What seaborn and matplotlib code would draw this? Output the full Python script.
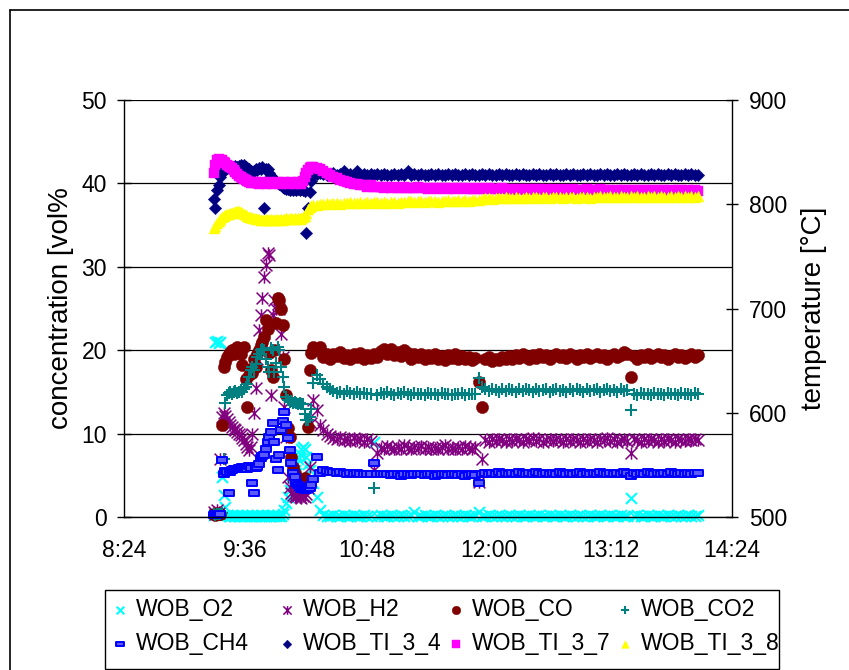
import matplotlib
matplotlib.use("Agg")
import numpy as np
import pandas as pd
import matplotlib.pyplot as plt
import matplotlib.dates as mdates
from matplotlib.path import Path
from matplotlib.lines import Line2D
from matplotlib.patches import Rectangle
from matplotlib.ticker import FuncFormatter
import seaborn as sns

# ---------------- data ----------------
DAY = "2000-01-01"
FAST_START, FAST_END, FAST_STEP = "09:17", "10:16", "1min"   # 60 samples
SLOW_START, SLOW_END, SLOW_STEP = "10:18", "14:04", "2min"   # 114 samples

# gas concentrations [vol%]
O2_fast = [0.2, 21.0, 21.1, 20.9, 21.0, 4.8, 2.6, 1.2, 0.2, 0.1,
           0.1, 0.2, 0.1, 0.1, 0.2, 0.1, 0.1, 0.2, 0.1, 0.1,
           0.2, 0.1, 0.1, 0.2, 0.1, 0.1, 0.2, 0.1, 0.1, 0.2,
           0.1, 0.1, 0.2, 0.1, 0.1, 0.2, 0.1, 0.1, 0.2, 0.1,
           0.1, 0.3, 0.8, 1.7, 2.4, 3.2, 4.0, 4.8, 5.6, 6.4,
           7.0, 7.6, 8.1, 8.4, 8.2, 7.2, 6.4, 5.6, 4.8, 4.1]
O2_slow = [2.4, 0.8, 0.2, 0.1, 0.1, 0.2, 0.1, 0.1, 0.2, 0.1,
           0.1, 0.2, 0.1, 0.1, 0.2, 0.1, 0.1, 9.0, 0.1, 0.2,
           0.1, 0.1, 0.2, 0.1, 0.1, 0.2, 0.1, 0.1, 0.2, 0.6,
           0.1, 0.1, 0.2, 0.1, 0.1, 0.2, 0.1, 0.1, 0.2, 0.1,
           0.1, 0.2, 0.1, 0.1, 0.2, 0.1, 0.1, 0.2, 0.6, 0.1,
           0.1, 0.2, 0.1, 0.1, 0.2, 0.1, 0.1, 0.2, 0.1, 0.1,
           0.2, 0.1, 0.1, 0.2, 0.1, 0.1, 0.2, 0.1, 0.1, 0.2,
           0.1, 0.1, 0.2, 0.1, 0.1, 0.2, 0.1, 0.1, 0.2, 0.1,
           0.1, 0.2, 0.1, 0.1, 0.2, 0.1, 0.1, 0.2, 0.1, 0.1,
           0.2, 0.1, 0.1, 2.3, 0.1, 0.2, 0.1, 0.1, 0.2, 0.1,
           0.1, 0.2, 0.1, 0.1, 0.2, 0.1, 0.1, 0.2, 0.1, 0.1,
           0.2, 0.1, 0.1, 0.2]

H2_fast = [0.6, 0.4, 0.8, 0.5, 7.0, 12.0, 12.5, 12.1, 11.8, 11.4,
           11.0, 10.8, 10.6, 10.4, 10.2, 10.0, 9.8, 9.5, 9.2, 8.8,
           8.4, 8.0, 8.4, 10.0, 12.5, 15.5, 19.0, 22.4, 24.2, 26.3,
           28.8, 30.2, 31.7, 31.4, 14.6, 24.2, 26.0, 25.0, 25.5, 25.0,
           22.0, 19.2, 13.2, 9.6, 4.8, 3.6, 2.9, 2.6, 2.5, 2.4,
           2.6, 2.4, 2.3, 2.5, 2.4, 2.8, 3.5, 6.0, 11.3, 14.0]
H2_slow = [12.8, 11.0, 10.4, 10.0, 9.7, 9.5, 9.3, 9.6, 9.2, 9.4,
           9.1, 9.5, 9.2, 9.3, 9.0, 9.4, 9.1, 5.6, 7.7, 8.3,
           8.2, 8.5, 8.3, 8.1, 8.4, 8.2, 8.6, 8.3, 8.1, 8.4,
           8.3, 8.5, 8.2, 8.4, 8.1, 8.3, 8.2, 8.4, 8.6, 8.2,
           8.3, 8.1, 8.4, 8.2, 8.5, 8.3, 8.1, 8.4, 4.2, 7.0,
           9.2, 9.0, 9.3, 9.1, 9.4, 9.2, 9.0, 9.3, 9.1, 9.4,
           9.2, 9.0, 9.3, 9.2, 9.5, 9.1, 9.3, 9.0, 9.2, 9.4,
           9.1, 9.3, 9.2, 9.0, 9.3, 9.1, 9.4, 9.2, 9.0, 9.3,
           9.1, 9.4, 9.2, 9.0, 9.3, 9.2, 9.5, 9.1, 9.3, 9.0,
           9.2, 9.4, 9.1, 7.7, 9.3, 9.2, 9.0, 9.3, 9.1, 9.4,
           9.2, 9.0, 9.3, 9.1, 9.4, 9.2, 9.0, 9.3, 9.2, 9.1,
           9.4, 9.2, 9.3, 9.2]

CO_fast = [0.3, 0.2, 0.5, 0.3, 0.4, 11.0, 18.0, 18.6, 19.2, 19.5,
           19.8, 20.0, 19.6, 20.2, 20.4, 19.8, 19.5, 18.2, 20.4, 16.6,
           13.2, 17.0, 17.8, 17.3, 19.0, 18.0, 19.5, 20.0, 20.6, 21.0,
           21.6, 23.6, 22.5, 19.7, 17.6, 16.8, 20.0, 23.3, 26.3, 26.0,
           25.0, 23.0, 19.0, 14.6, 10.7, 9.6, 7.2, 6.0, 5.3, 4.8,
           4.6, 4.5, 4.4, 4.2, 4.7, 4.0, 10.8, 17.6, 19.7, 20.4]
CO_slow = [20.0, 20.4, 19.2, 19.6, 19.0, 19.5, 19.3, 19.8, 19.1, 19.4,
           18.9, 19.5, 19.2, 19.7, 19.0, 19.4, 19.1, 19.5, 19.2, 19.9,
           20.2, 19.6, 20.1, 19.4, 19.8, 19.3, 20.0, 19.7, 19.0, 19.5,
           19.2, 19.6, 18.9, 19.4, 19.1, 19.5, 19.0, 19.3, 18.8, 19.4,
           19.1, 19.5, 19.0, 19.3, 18.9, 19.2, 18.8, 19.1, 16.2, 13.2,
           18.9, 19.2, 18.7, 19.0, 18.8, 19.2, 18.9, 19.3, 19.0, 19.4,
           19.1, 19.5, 19.2, 19.0, 19.4, 19.1, 19.5, 19.2, 19.4, 19.0,
           19.3, 19.6, 19.2, 19.4, 19.1, 19.5, 19.3, 19.0, 19.4, 19.2,
           19.5, 19.1, 19.3, 19.6, 19.2, 19.4, 19.0, 19.3, 19.5, 19.2,
           19.4, 19.8, 19.5, 16.8, 19.3, 19.0, 19.4, 19.2, 19.5, 19.1,
           19.3, 19.6, 19.2, 19.4, 19.0, 19.3, 19.5, 19.2, 19.4, 19.1,
           19.3, 19.5, 19.2, 19.4]

CO2_fast = [0.3, 0.2, 0.4, 0.3, 0.4, 0.5, 7.0, 13.7, 14.6, 14.9,
            15.0, 14.8, 15.0, 15.1, 14.9, 15.0, 15.2, 15.0, 15.3, 15.6,
            16.0, 16.8, 17.6, 18.0, 17.6, 18.4, 19.2, 19.6, 20.0, 20.2,
            20.0, 19.0, 18.0, 17.4, 20.3, 20.0, 17.4, 18.5, 20.4, 20.0,
            18.0, 16.8, 15.6, 14.4, 14.0, 13.8, 13.9, 13.7, 13.8, 13.7,
            13.6, 13.7, 13.5, 13.6, 12.4, 11.6, 11.6, 12.0, 13.0, 16.1]
CO2_slow = [17.0, 16.5, 16.0, 15.6, 15.3, 15.1, 14.9, 15.0, 14.8, 15.1,
            14.9, 14.7, 15.0, 14.8, 14.9, 14.7, 14.8, 3.5, 14.6, 14.9,
            14.7, 15.0, 14.8, 14.6, 14.9, 14.7, 15.0, 14.8, 14.6, 14.9,
            14.7, 14.8, 14.6, 14.9, 14.7, 14.8, 14.6, 14.9, 14.7, 14.8,
            14.6, 14.8, 14.7, 14.9, 14.6, 14.8, 14.7, 14.8, 16.7, 15.6,
            15.3, 15.1, 15.4, 15.2, 15.0, 15.3, 15.1, 15.4, 15.2, 15.0,
            15.3, 15.1, 15.4, 15.2, 15.0, 15.3, 15.1, 15.2, 15.4, 15.0,
            15.2, 15.3, 15.1, 15.2, 15.0, 15.3, 15.1, 15.4, 15.2, 15.0,
            15.3, 15.1, 15.2, 15.4, 15.0, 15.2, 15.3, 15.1, 15.2, 15.0,
            15.3, 15.1, 15.2, 12.8, 14.8, 14.6, 14.9, 14.7, 14.8, 14.6,
            14.9, 14.7, 14.8, 14.6, 14.9, 14.7, 14.8, 14.6, 14.9, 14.7,
            14.8, 14.6, 14.9, 14.7]

CH4_fast = [0.2, 0.3, 0.2, 0.4, 0.3, 6.8, 5.2, 5.5, 5.4, 2.9,
            5.4, 5.6, 5.7, 5.8, 5.7, 5.9, 5.8, 6.0, 5.9, 6.0,
            5.8, 6.1, 5.9, 4.1, 2.9, 5.9, 6.0, 6.4, 7.1, 7.3,
            7.4, 8.2, 9.0, 9.6, 10.2, 11.3, 9.0, 7.0, 5.6, 7.4,
            10.4, 11.5, 12.6, 11.0, 9.5, 8.0, 6.5, 5.3, 4.8, 4.1,
            3.8, 3.6, 3.4, 3.3, 3.2, 3.2, 3.3, 3.5, 3.8, 4.5]
CH4_slow = [7.2, 5.3, 5.6, 5.5, 5.4, 5.4, 5.3, 5.4, 5.3, 5.2,
            5.3, 5.2, 5.3, 5.1, 5.2, 5.1, 5.2, 6.5, 5.1, 5.2,
            5.1, 5.2, 5.0, 5.1, 5.2, 4.9, 5.1, 5.2, 5.0, 5.1,
            5.2, 5.1, 5.0, 5.2, 5.1, 4.9, 5.0, 5.1, 5.2, 5.0,
            5.1, 5.2, 5.0, 5.1, 4.9, 5.0, 5.1, 5.0, 4.1, 5.2,
            5.3, 5.2, 5.3, 5.2, 5.4, 5.2, 5.3, 5.2, 5.3, 5.2,
            5.4, 5.3, 5.2, 5.3, 5.2, 5.4, 5.3, 5.2, 5.3, 5.2,
            5.3, 5.2, 5.4, 5.3, 5.2, 5.3, 5.2, 5.3, 5.4, 5.2,
            5.3, 5.2, 5.3, 5.2, 5.4, 5.3, 5.2, 5.3, 5.2, 5.3,
            5.2, 5.4, 5.3, 4.9, 5.3, 5.2, 5.3, 5.2, 5.4, 5.3,
            5.2, 5.3, 5.2, 5.3, 5.2, 5.4, 5.3, 5.2, 5.3, 5.2,
            5.3, 5.2, 5.3, 5.3]

# temperatures [°C]
TI34_fast = [805, 796, 813.6, 818, 826, 830, 833, 834, 835, 836,
             836, 835, 836, 837, 836, 837, 838, 837, 838, 836,
             835, 834, 832, 830, 832, 834, 833, 835, 834, 836,
             796, 834, 834, 830, 827, 825, 823, 821, 820, 819,
             818, 817, 816, 815, 815, 814, 815, 814, 815, 814,
             815, 814, 815, 814, 813, 772, 796, 812, 822, 828]
TI34_slow = [829, 830, 829, 828, 829, 830, 828, 829, 832, 828,
             829, 828, 832, 828, 829, 828, 829, 828, 829, 828,
             829, 828, 828, 829, 828, 829, 828, 832, 828, 829,
             828, 829, 828, 828, 829, 828, 829, 828, 828, 829,
             828, 829, 828, 828, 829, 828, 829, 828, 828, 829,
             828, 829, 828, 828, 829, 828, 829, 828, 828, 829,
             828, 829, 828, 828, 829, 828, 829, 828, 828, 829,
             828, 829, 828, 828, 829, 828, 829, 828, 828, 829,
             828, 829, 828, 828, 829, 828, 829, 828, 828, 829,
             828, 829, 828, 828, 829, 828, 829, 828, 828, 829,
             828, 829, 828, 828, 829, 828, 829, 828, 828, 829,
             828, 829, 828, 828]

TI37_fast = [830, 838, 842, 843, 842, 842, 841, 840, 838, 837,
             836, 835, 833, 831, 829, 827, 826, 825, 824, 823,
             822, 821, 820, 821, 820, 821, 820, 819, 820, 821,
             820, 819, 820, 821, 820, 819, 820, 820, 821, 820,
             819, 820, 821, 820, 819, 820, 821, 820, 819, 820,
             821, 820, 819, 822, 826, 830, 833, 835, 836, 836]
TI37_slow = [835, 834, 832, 830, 828, 826, 825, 823, 822, 821,
             820, 819, 819, 818, 818, 817, 818, 817, 817, 817,
             816, 817, 816, 817, 816, 816, 817, 816, 816, 816,
             817, 816, 816, 815, 816, 816, 815, 816, 816, 815,
             816, 815, 816, 816, 815, 816, 815, 815, 816, 815,
             815, 816, 815, 815, 815, 816, 815, 815, 814, 815,
             815, 814, 815, 815, 814, 815, 815, 814, 815, 814,
             815, 814, 814, 815, 814, 814, 815, 814, 814, 814,
             815, 814, 814, 814, 815, 814, 814, 814, 813, 814,
             814, 814, 813, 814, 814, 813, 814, 814, 813, 814,
             814, 813, 814, 814, 813, 814, 813, 814, 814, 813,
             814, 813, 814, 813]

TI38_fast = [777, 779, 782, 784, 786, 788, 789, 790, 791, 791,
             792, 792, 793, 793, 794, 794, 793, 792, 791, 790,
             789, 788, 788, 787, 787, 786, 786, 786, 785, 785,
             785, 786, 785, 785, 786, 785, 785, 786, 785, 785,
             786, 785, 786, 787, 786, 786, 787, 786, 787, 786,
             787, 786, 787, 788, 789, 792, 795, 797, 798, 799]
TI38_slow = [799, 800, 800, 801, 800, 801, 801, 800, 801, 801,
             802, 801, 801, 802, 801, 802, 801, 802, 802, 801,
             802, 801, 802, 802, 801, 802, 802, 803, 803, 802,
             803, 803, 802, 803, 803, 803, 802, 803, 803, 804,
             803, 803, 804, 803, 804, 803, 804, 804, 804, 805,
             806, 806, 805, 806, 806, 806, 807, 806, 806, 807,
             806, 806, 807, 806, 807, 807, 806, 807, 807, 806,
             807, 807, 807, 806, 807, 807, 807, 806, 807, 807,
             807, 806, 807, 807, 808, 807, 807, 808, 807, 807,
             808, 807, 807, 808, 807, 808, 807, 807, 808, 807,
             808, 807, 808, 807, 807, 808, 807, 808, 807, 808,
             807, 808, 807, 808]

GAS_NAMES = ["WOB_O2", "WOB_H2", "WOB_CO", "WOB_CO2", "WOB_CH4"]
TEMP_NAMES = ["WOB_TI_3_4", "WOB_TI_3_7", "WOB_TI_3_8"]
LEFT_TICKS = [0, 10, 20, 30, 40, 50]
RIGHT_TICKS = [500, 600, 700, 800, 900]
X_START, X_END, X_STEP = "08:24", "14:24", "72min"

times = pd.date_range(f"{DAY} {FAST_START}", f"{DAY} {FAST_END}", freq=FAST_STEP).append(
    pd.date_range(f"{DAY} {SLOW_START}", f"{DAY} {SLOW_END}", freq=SLOW_STEP))

values = {
    "WOB_O2": O2_fast + O2_slow,
    "WOB_H2": H2_fast + H2_slow,
    "WOB_CO": CO_fast + CO_slow,
    "WOB_CO2": CO2_fast + CO2_slow,
    "WOB_CH4": CH4_fast + CH4_slow,
    "WOB_TI_3_4": TI34_fast + TI34_slow,
    "WOB_TI_3_7": TI37_fast + TI37_slow,
    "WOB_TI_3_8": TI38_fast + TI38_slow,
}
df = pd.concat([pd.DataFrame({"time": times, "value": v, "series": k})
                for k, v in values.items()], ignore_index=True)

# ---------------- style ----------------
sns.set_theme(style="white", rc={
    "axes.edgecolor": "black", "text.color": "black", "axes.labelcolor": "black",
    "xtick.color": "black", "ytick.color": "black"})
plt.rcParams["font.family"] = ["Liberation Sans", "DejaVu Sans"]

STAR = Path([(-1, -1), (1, 1), (-1, 1), (1, -1), (0, -1.05), (0, 1.05)],
            [Path.MOVETO, Path.LINETO] * 3)
DASH = Path([(-1, -0.5), (1, -0.5), (1, 0.5), (-1, 0.5), (-1, -0.5)],
            [Path.MOVETO, Path.LINETO, Path.LINETO, Path.LINETO, Path.CLOSEPOLY])

styles = {
    "WOB_O2": dict(marker="x", color="#00FFFF", edgecolor="#00FFFF", s=62, linewidth=1.5),
    "WOB_H2": dict(marker=STAR, color="#800080", edgecolor="#800080", s=80, linewidth=1.1),
    "WOB_CO": dict(marker="o", color="#800000", edgecolor="#800000", s=78, linewidth=0.3),
    "WOB_CO2": dict(marker="+", color="#008080", edgecolor="#008080", s=70, linewidth=1.5),
    "WOB_CH4": dict(marker=DASH, color="#0000FF", facecolor="#5A5AFF", edgecolor="#0000FF", s=58, linewidth=1.4),
    "WOB_TI_3_4": dict(marker="D", color="#000080", edgecolor="#000080", s=40, linewidth=0.3),
    "WOB_TI_3_7": dict(marker="s", color="#FF00FF", edgecolor="#FF00FF", s=62, linewidth=0.3),
    "WOB_TI_3_8": dict(marker="^", color="#FFFF00", edgecolor="#FFFF00", s=62, linewidth=0.3),
}

W, H = 849, 670
fig = plt.figure(figsize=(W / 100, H / 100), dpi=100)
ax = fig.add_axes([124 / W, 1 - 517 / H, 608 / W, 417 / H])
ax2 = ax.twinx()

for name in GAS_NAMES:
    sns.scatterplot(data=df[df.series == name], x="time", y="value", ax=ax,
                    label=name, legend=False, clip_on=False, **styles[name])
for name in TEMP_NAMES:
    sns.scatterplot(data=df[df.series == name], x="time", y="value", ax=ax2,
                    label=name, legend=False, clip_on=False, **styles[name])

# axes
ax.set_xlim(pd.Timestamp(f"{DAY} {X_START}"), pd.Timestamp(f"{DAY} {X_END}"))
ax.set_ylim(LEFT_TICKS[0], LEFT_TICKS[-1])
ax2.set_ylim(RIGHT_TICKS[0], RIGHT_TICKS[-1])
ax.set_yticks(LEFT_TICKS)
ax2.set_yticks(RIGHT_TICKS)
xt = pd.date_range(f"{DAY} {X_START}", f"{DAY} {X_END}", freq=X_STEP)
ax.set_xticks(mdates.date2num(xt.to_pydatetime()))


def fmt_time(v, pos):
    total = int(round((v % 1) * 1440))
    return f"{total // 60}:{total % 60:02d}"


ax.xaxis.set_major_formatter(FuncFormatter(fmt_time))

ax.set_xlabel("")
ax.set_ylabel("concentration [vol%", fontsize=20)
ax2.set_ylabel("temperature [°C]", fontsize=20)
ax.yaxis.set_label_coords(-0.082, 0.5)
ax2.yaxis.set_label_coords(1.1135, 0.5)

ax.grid(axis="y", color="black", linewidth=0.9)
ax.grid(axis="x", visible=False)
ax.set_axisbelow(True)

for a in (ax, ax2):
    a.spines["top"].set_visible(False)
ax.spines["right"].set_visible(False)
for side in ("left", "bottom"):
    ax2.spines[side].set_visible(False)
for sp in (ax.spines["left"], ax.spines["bottom"], ax2.spines["right"]):
    sp.set_color("black")
    sp.set_linewidth(1.0)

ax.tick_params(axis="y", direction="inout", length=9.5, width=1, labelsize=16.5, pad=7.5)
ax2.tick_params(axis="y", direction="inout", length=9, width=1, labelsize=16.5, pad=8)
ax.tick_params(axis="x", direction="out", length=2.5, width=1, labelsize=16.5, pad=13.5)

# outer chart border (left and top edges visible in the crop)
fig.add_artist(Line2D([10 / W, 10 / W], [0, 1 - 10 / H], transform=fig.transFigure,
                      color="black", linewidth=1.2))
fig.add_artist(Line2D([10 / W, 1], [1 - 10 / H, 1 - 10 / H], transform=fig.transFigure,
                      color="black", linewidth=1.2))

# legend
handles = {c.get_label(): c for c in ax.collections + ax2.collections}
legend_cols = [["WOB_O2", "WOB_CH4"], ["WOB_H2", "WOB_TI_3_4"],
               ["WOB_CO", "WOB_TI_3_7"], ["WOB_CO2", "WOB_TI_3_8"]]
col_left_px = [111, 278, 447, 616]
for names, xl in zip(legend_cols, col_left_px):
    fig.legend([handles[n] for n in names], names, loc="upper left",
               bbox_to_anchor=(xl / W, 1 - 598 / H), frameon=False, borderpad=0,
               borderaxespad=0, handlelength=0.8, handletextpad=0.3,
               labelspacing=0.5, fontsize=16.5, scatterpoints=1, markerscale=0.7)
fig.add_artist(Rectangle((105 / W, 1 - 669 / H), (779 - 105) / W, (669 - 590) / H,
                         transform=fig.transFigure, fill=False, edgecolor="black",
                         linewidth=1.0))

fig.savefig("out.png", dpi=100)
